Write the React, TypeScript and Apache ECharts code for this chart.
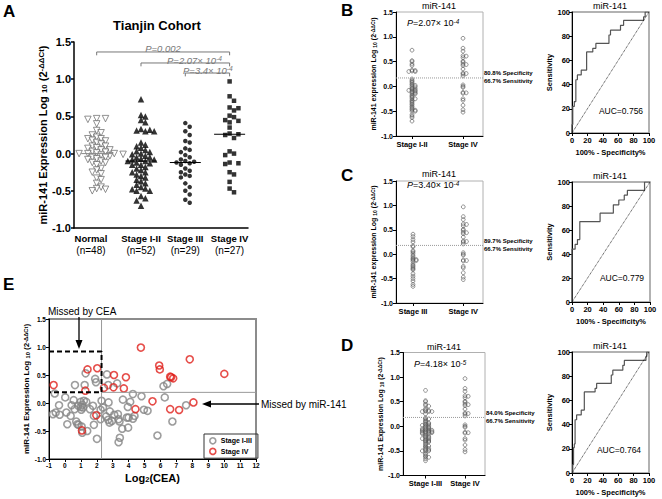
import React, { useEffect, useRef } from "react";
import * as echarts from "echarts";

const FONT = "'Liberation Sans', Arial, Helvetica, sans-serif";

// ---------- Panel A data ----------
const groupNames = ["Normal", "Stage I-II", "Stage III", "Stage IV"];
const groupN = ["(n=48)", "(n=52)", "(n=29)", "(n=27)"];
const normalVals = [0.47, 0.47, 0.46, 0.40, 0.31, 0.28, 0.25, 0.22, 0.20, 0.20,
  0.18, 0.17, 0.15, 0.13, 0.10, 0.10, 0.08, 0.07, 0.05, 0.05,
  0.03, 0.02, 0.01, 0.00, 0.00, 0.00, -0.01, -0.02, -0.03, -0.05,
  -0.05, -0.07, -0.08, -0.10, -0.12, -0.12, -0.15, -0.20, -0.22, -0.25,
  -0.27, -0.33, -0.35, -0.40, -0.45, -0.47, -0.48, -0.50];
const stage12Vals = [0.73, 0.52, 0.50, 0.45, 0.42, 0.33, 0.32, 0.31, 0.30, 0.30,
  0.15, 0.12, 0.10, 0.08, 0.05, 0.03, 0.02, 0.00, -0.01, -0.03,
  -0.05, -0.05, -0.07, -0.08, -0.08, -0.10, -0.10, -0.12, -0.13, -0.15,
  -0.15, -0.18, -0.20, -0.22, -0.25, -0.25, -0.28, -0.30, -0.32, -0.35,
  -0.37, -0.40, -0.42, -0.45, -0.47, -0.48, -0.50, -0.50, -0.57, -0.60,
  -0.63, -0.70];
const stage3Vals = [0.41, 0.36, 0.30, 0.25, 0.17, 0.15, 0.07, 0.05, 0.02, -0.02,
  -0.05, -0.08, -0.10, -0.11, -0.12, -0.13, -0.15, -0.20, -0.23, -0.25,
  -0.28, -0.30, -0.32, -0.40, -0.45, -0.50, -0.55, -0.62, -0.66];
const stage4Vals = [0.97, 0.77, 0.71, 0.62, 0.61, 0.58, 0.51, 0.49, 0.45, 0.44,
  0.42, 0.35, 0.27, 0.26, 0.25, 0.21, 0.03, -0.02, -0.12, -0.13,
  -0.14, -0.25, -0.28, -0.38, -0.47, -0.52, 0.00];
const stage13Vals = [...stage12Vals, ...stage3Vals];

const pTexts = ["0.002", "2.07", "3.4"];

// ---------- ROC curves (100% - specificity, sensitivity) ----------
const rocB_fpr = [0, 0, 1, 1, 3, 3, 5, 5, 7, 7, 12, 12, 19, 19, 27, 27, 31, 31, 48, 48, 50, 50, 63, 63, 67, 67, 93, 93, 95, 95, 100];
const rocB_tpr = [0, 7, 7, 22, 22, 26, 26, 44, 44, 48, 48, 52, 52, 67, 67, 70, 70, 74, 74, 81, 81, 85, 85, 89, 89, 93, 93, 96, 96, 100, 100];
const rocC_fpr = [0, 0, 4, 4, 7, 7, 10, 10, 36, 36, 53, 53, 60, 60, 67, 67, 71, 71, 93, 93, 100];
const rocC_tpr = [0, 44, 44, 48, 48, 52, 52, 67, 67, 74, 74, 81, 81, 85, 85, 89, 89, 93, 93, 100, 100];
const rocD_fpr = [0, 1, 1, 2, 2, 3, 3, 4, 4, 6, 6, 12, 12, 16, 16, 30, 30, 32, 32, 51, 51, 53, 53, 66, 66, 68, 68, 96, 96, 97, 97, 100];
const rocD_tpr = [0, 0, 7, 7, 21, 21, 24, 24, 44, 44, 48, 48, 52, 52, 67, 67, 70, 70, 74, 74, 81, 81, 85, 85, 89, 89, 93, 93, 96, 96, 100, 100];
const aucB = "0.756", aucC = "0.779", aucD = "0.764";
const cutB = 0.17, cutC = 0.18, cutD = 0.18;
const specB = "80.8", specC = "89.7", specD = "84.0", sensAll = "66.7";

// ---------- Panel E data ----------
const ceaLow = [-0.64, -0.75, -0.58, -0.37, -0.33, 0.02, 0.09, 0.15, 0.36, 0.42, 0.55, 0.63, 0.61, 0.71, 0.78, 0.84, 0.86, 0.99, 0.99, 1.03,
  1.05, 1.09, 1.09, 1.13, 1.19, 1.24, 1.30, 1.34, 1.40, 1.57, 1.76, 1.82, 1.82, 1.90, 1.95, 2.01, 2.24, 2.30, 2.39, 2.24,
  2.59, 2.64, 2.72, 2.72, 2.80, 2.74, 2.82, 2.95, 3.10, 3.28, 3.33, 3.37, 3.43, 3.37, 3.45, 3.64, 3.60, 3.95, 3.89, 4.00,
  3.97, 4.10, 4.27, 4.27, 4.37, 4.81, 4.96, 5.19, 5.81, 6.19, 6.27, 6.42, 7.61, 6.75];
const mirLow = [0.17, -0.20, -0.17, -0.04, -0.21, 0.10, -0.17, -0.38, -0.23, -0.04, 0.05, 0.32, -0.11, -0.33, -0.38, -0.05, -0.39, -0.07, 0.02, -0.12,
  -0.42, -0.53, -0.03, -0.08, 0.04, 0.32, 0.53, 0.02, -0.50, -0.11, -0.05, -0.23, -0.39, 0.43, 0.37, -0.64, -0.12, 0.04, -0.08, -0.29,
  -0.24, 0.51, 0.32, -0.30, -0.35, 0.01, -0.15, -0.32, -0.21, 0.35, -0.20, -0.29, -0.33, -0.70, -0.62, 0.06, -0.46, -0.07, -0.26, -0.26,
  -0.44, 0.02, 0.16, -0.28, -0.23, 0.12, -0.12, -0.14, -0.58, 0.30, 0.10, 0.34, -0.04, -0.33];
const ceaIV = [-0.71, 1.07, 1.28, 1.42, 2.03, 1.97, 2.45, 3.08, 3.05, 3.83, 3.70, 4.43, 4.77, 5.50, 5.92, 5.96, 6.61, 6.67, 6.80, 6.61, 7.17, 7.84, 8.07, 10.01];
const mirIV = [0.32, -0.49, 0.22, 0.60, 0.62, -0.22, 0.27, 0.50, 0.28, 0.46, 0.26, -0.11, 0.99, 0.03, 0.67, 0.60, 0.47, 0.46, 0.44, -0.11, -0.125, 0.78, 0.01, 0.52];
const ceaCut = 2.3, mirCut = 0.19, boxTop = 0.92;

// deterministic beeswarm: returns horizontal offsets in axis units
function swarm(vals: number[], pxY: number, pxX: number, d: number, step: number): number[] {
  const order = vals.map((_, i) => i).sort((a, b) => vals[b] - vals[a]);
  const placed: { x: number; y: number }[] = [];
  const res = new Array(vals.length).fill(0);
  for (const i of order) {
    const y = vals[i] * pxY;
    for (let k = 0; k < 60; k++) {
      const m = Math.ceil(k / 2) * (k % 2 === 1 ? 1 : -1);
      const x = m * step;
      const hit = placed.some((p) => Math.abs(p.x - x) < step * 0.5 && Math.abs(p.y - y) < d || ((p.x - x) ** 2 + (p.y - y) ** 2 < d * d));
      if (!hit) {
        placed.push({ x, y });
        res[i] = x / pxX;
        break;
      }
    }
  }
  return res;
}
function median(a: number[]) {
  const s = [...a].sort((x, y) => x - y);
  const n = s.length;
  return n % 2 ? s[(n - 1) / 2] : (s[n / 2 - 1] + s[n / 2]) / 2;
}

const yNameRich = (fs: number) => ({
  fontFamily: FONT, fontWeight: "bold" as const, fontSize: fs, color: "#000",
  rich: {
    sub: { fontFamily: FONT, fontWeight: "bold", fontSize: fs * 0.72, verticalAlign: "bottom", color: "#000" },
    sup: { fontFamily: FONT, fontWeight: "bold", fontSize: fs * 0.72, verticalAlign: "top", color: "#000" },
  },
});

function makeY(gridIndex: number, min: number, max: number, interval: number, fs: number, dec: number,
  name: string, nameGap: number, nameFs: number, lw = 1) {
  return {
    type: "value", gridIndex, min, max, interval,
    name, nameLocation: "middle", nameGap, nameRotate: 90, nameTextStyle: yNameRich(nameFs),
    axisLine: { show: true, onZero: false, lineStyle: { color: "#000", width: lw } },
    axisTick: { show: true, length: 3, lineStyle: { color: "#000", width: lw } },
    axisLabel: { fontFamily: FONT, fontWeight: "bold", fontSize: fs, color: "#000", margin: 3, formatter: (v: number) => v.toFixed(dec) },
    splitLine: { show: false },
  };
}

export default function App() {
  const ref = useRef<HTMLDivElement>(null);
  useEffect(() => {
    document.body.style.margin = "0";
    const chart = echarts.init(ref.current!, null, { renderer: "svg" });

    // ---- Panel A ----
    const aGroups = [normalVals, stage12Vals, stage3Vals, stage4Vals];
    const aOff = aGroups.map((g) => swarm(g, 74.4, 44.3, 4.6, 4.4));
    const aData = aGroups.map((g, gi) => g.map((v, k) => [gi + aOff[gi][k], v]));
    const aStyles = [
      { symbol: "triangle", symbolRotate: 180, symbolSize: 6.5, itemStyle: { color: "#fff", borderColor: "#666", borderWidth: 0.9 } },
      { symbol: "triangle", symbolRotate: 0, symbolSize: 6.5, itemStyle: { color: "#000" } },
      { symbol: "circle", symbolRotate: 0, symbolSize: 4.5, itemStyle: { color: "#000" } },
      { symbol: "rect", symbolRotate: 0, symbolSize: 4.5, itemStyle: { color: "#000" } },
    ];
    const series: any[] = [];
    aData.forEach((d, gi) => {
      series.push({ type: "scatter", name: "A-" + groupNames[gi], xAxisIndex: 0, yAxisIndex: 0, data: d, silent: true, ...aStyles[gi] });
      const med = median(aGroups[gi]);
      series.push({
        type: "line", name: "A-med-" + gi, xAxisIndex: 0, yAxisIndex: 0, symbol: "none", silent: true,
        data: [[gi - 0.35, med], [gi + 0.35, med]], lineStyle: { color: gi === 0 ? "#888" : "#000", width: 1 },
      });
    });
    const brackets = [[0, 1.366], [1, 1.218], [2, 1.083]];
    brackets.forEach(([s, y], bi) => {
      series.push({
        type: "line", name: "A-br-" + bi, xAxisIndex: 0, yAxisIndex: 0, symbol: "none", silent: true,
        data: [[s, y - 0.045], [s, y], [3, y], [3, y - 0.045]], lineStyle: { color: "#777", width: 1 },
      });
    });

    // ---- B/C/D scatter panels ----
    const scat = (idx: number, g1: number[], g2: number[], cut: number, pxX: number, xmin: number, xmax: number) => {
      const o1 = swarm(g1, 49.6, pxX, 0.6, 3.2);
      const o2 = swarm(g2, 49.6, pxX, 0.6, 3.2);
      const common = {
        type: "scatter", xAxisIndex: idx, yAxisIndex: idx, symbol: "circle", symbolSize: 3.8, silent: true,
        itemStyle: { color: "rgba(255,255,255,0)", borderColor: "#555", borderWidth: 0.8 },
      };
      series.push({ ...common, name: `s${idx}a`, data: g1.map((v, k) => [o1[k], v]) });
      series.push({ ...common, name: `s${idx}b`, data: g2.map((v, k) => [1 + o2[k], v]) });
      series.push({
        type: "line", name: `cut${idx}`, xAxisIndex: idx, yAxisIndex: idx, symbol: "none", silent: true,
        data: [[xmin, cut], [xmax, cut]], lineStyle: { type: "dotted", color: "#999", width: 1 },
      });
    };
    const roc = (idx: number, fpr: number[], tpr: number[]) => {
      series.push({
        type: "line", name: `roc${idx}`, xAxisIndex: idx, yAxisIndex: idx, symbol: "none", silent: true,
        data: fpr.map((f, k) => [f, tpr[k]]), lineStyle: { color: "#555", width: 1.2 },
      });
      series.push({
        type: "line", name: `diag${idx}`, xAxisIndex: idx, yAxisIndex: idx, symbol: "none", silent: true,
        data: [[0, 0], [100, 100]], lineStyle: { color: "#000", width: 0.8, type: "dotted" },
      });
    };
    const xB = { min: -0.314, max: 1.392 }, xC = { min: -0.338, max: 1.392 }, xD = { min: -0.57, max: 1.506 };
    scat(1, stage12Vals, stage4Vals, cutB, 51, xB.min, xB.max);
    roc(2, rocB_fpr, rocB_tpr);
    scat(3, stage3Vals, stage4Vals, cutC, 50.3, xC.min, xC.max);
    roc(4, rocC_fpr, rocC_tpr);
    scat(5, stage13Vals, stage4Vals, cutD, 39.5, xD.min, xD.max);
    roc(6, rocD_fpr, rocD_tpr);

    // ---- Panel E ----
    series.push({
      type: "line", name: "E-v", xAxisIndex: 7, yAxisIndex: 7, symbol: "none", silent: true,
      data: [[ceaCut, -1], [ceaCut, 1.5]], lineStyle: { color: "#999", width: 1 },
    });
    series.push({
      type: "line", name: "E-h", xAxisIndex: 7, yAxisIndex: 7, symbol: "none", silent: true,
      data: [[ceaCut, mirCut], [12, mirCut]], lineStyle: { color: "#999", width: 1 },
    });
    series.push({
      type: "line", name: "E-box", xAxisIndex: 7, yAxisIndex: 7, symbol: "none", silent: true,
      data: [[-1, boxTop], [ceaCut, boxTop], [ceaCut, mirCut], [-1, mirCut]],
      lineStyle: { color: "#000", width: 2, type: [5, 3] },
    });
    series.push({
      type: "scatter", name: "Stage I-III", xAxisIndex: 7, yAxisIndex: 7, symbol: "circle", symbolSize: 7, silent: true,
      itemStyle: { color: "rgba(255,255,255,0)", borderColor: "#858585", borderWidth: 1.6 },
      data: ceaLow.map((c, k) => [c, mirLow[k]]),
    });
    series.push({
      type: "scatter", name: "Stage IV", xAxisIndex: 7, yAxisIndex: 7, symbol: "circle", symbolSize: 7, silent: true,
      itemStyle: { color: "rgba(255,255,255,0)", borderColor: "#e0201b", borderWidth: 1.6 },
      data: ceaIV.map((c, k) => [c, mirIV[k]]),
    });

    const grids = [
      { left: 74, top: 42, width: 174, height: 186, show: false },
      { left: 396, top: 12, width: 87, height: 124, show: true, borderColor: "#b0b0b0", borderWidth: 1 },
      { left: 572, top: 12, width: 77, height: 121, show: true, borderColor: "#999", borderWidth: 1.5 },
      { left: 396, top: 181, width: 87, height: 122, show: true, borderColor: "#b0b0b0", borderWidth: 1 },
      { left: 572, top: 182, width: 78, height: 120, show: true, borderColor: "#999", borderWidth: 1.5 },
      { left: 403, top: 352.5, width: 82, height: 123, show: true, borderColor: "#b0b0b0", borderWidth: 1 },
      { left: 572, top: 352, width: 77, height: 121, show: true, borderColor: "#999", borderWidth: 1.5 },
      { left: 49, top: 319, width: 207, height: 140, show: true, borderColor: "#8c8c8c", borderWidth: 2 },
    ].map((g) => ({ ...g, containLabel: false, backgroundColor: "transparent" }));

    const catX = (gridIndex: number, min: number, max: number, labels: string[]) => ({
      type: "value", gridIndex, min, max,
      axisLine: { show: true, onZero: false, lineStyle: { color: "#000", width: 1 } },
      axisTick: { show: true, length: 3, customValues: [0, 1], lineStyle: { color: "#000" } },
      axisLabel: {
        customValues: [0, 1], fontFamily: FONT, fontWeight: "bold", fontSize: 7.5, color: "#000", margin: 4,
        formatter: (v: number) => labels[Math.round(v)] ?? "",
      },
      splitLine: { show: false },
    });
    const rocX = (gridIndex: number, gap: number) => ({
      type: "value", gridIndex, min: 0, max: 100, interval: 20,
      name: "100% - Specificity%", nameLocation: "middle", nameGap: gap,
      nameTextStyle: { fontFamily: FONT, fontWeight: "bold", fontSize: 7.5, color: "#000" },
      axisLine: { show: true, onZero: false, lineStyle: { color: "#000", width: 1 } },
      axisTick: { show: true, length: 3, lineStyle: { color: "#000" } },
      axisLabel: { fontFamily: FONT, fontWeight: "bold", fontSize: 7.5, color: "#000", margin: 3 },
      splitLine: { show: false },
    });
    const rocY = (gridIndex: number) => ({
      type: "value", gridIndex, min: 0, max: 100, interval: 20,
      name: "Sensitivity", nameLocation: "middle", nameGap: 19, nameRotate: 90,
      nameTextStyle: { fontFamily: FONT, fontWeight: "bold", fontSize: 7.5, color: "#000" },
      axisLine: { show: true, onZero: false, lineStyle: { color: "#000", width: 1 } },
      axisTick: { show: true, length: 3, lineStyle: { color: "#000" } },
      axisLabel: { fontFamily: FONT, fontWeight: "bold", fontSize: 7.5, color: "#000", margin: 2 },
      splitLine: { show: false },
    });

    const xAxis: any[] = [
      {
        type: "value", gridIndex: 0, min: -0.512, max: 3.415,
        axisLine: { show: true, onZero: false, lineStyle: { color: "#000", width: 1.5 } },
        axisTick: { show: false },
        axisLabel: {
          customValues: [-0.13, 1, 2, 3], margin: 4,
          formatter: (v: number) => `{b|${groupNames[Math.round(v)]}}\n{n|${groupN[Math.round(v)]}}`,
          rich: {
            b: { fontFamily: FONT, fontWeight: "bold", fontSize: 9.5, color: "#000", lineHeight: 12 },
            n: { fontFamily: FONT, fontSize: 10, color: "#000", lineHeight: 12 },
          },
        },
        splitLine: { show: false },
      },
      catX(1, xB.min, xB.max, ["Stage I-II", "Stage IV"]),
      rocX(2, 15),
      catX(3, xC.min, xC.max, ["Stage III", "Stage IV"]),
      rocX(4, 15),
      catX(5, xD.min, xD.max, ["Stage I-III", "Stage IV"]),
      rocX(6, 15),
      {
        type: "value", gridIndex: 7, min: -1, max: 12, interval: 1,
        name: "Log{sub|2}(CEA)", nameLocation: "middle", nameGap: 13,
        nameTextStyle: {
          fontFamily: FONT, fontWeight: "bold", fontSize: 11, color: "#000",
          rich: { sub: { fontFamily: FONT, fontWeight: "bold", fontSize: 7.5, verticalAlign: "bottom", color: "#000" } },
        },
        axisLine: { show: true, onZero: false, lineStyle: { color: "#000", width: 1 } },
        axisTick: { show: true, length: 3, lineStyle: { color: "#000" } },
        axisLabel: { fontFamily: FONT, fontWeight: "bold", fontSize: 6.5, color: "#000", margin: 3 },
        splitLine: { show: false },
      },
    ];
    const yName = "miR-141 Expression Log {sub|10} (2{sup|-ΔΔCt})";
    const yNameLow = "miR-141 expression Log {sub|10} (2{sup|-ΔΔCt})";
    const yAxis: any[] = [
      makeY(0, -1, 1.5, 0.5, 11, 1, yName, 21, 11, 1.5),
      makeY(1, -1, 1.5, 0.5, 7, 1, yNameLow, 15, 7),
      rocY(2),
      makeY(3, -1, 1.5, 0.5, 7, 1, yNameLow, 15, 7),
      rocY(4),
      makeY(5, -1, 1.5, 0.5, 7, 1, yName, 17, 7),
      rocY(6),
      makeY(7, -1, 1.5, 0.5, 6.5, 1, yName, 16, 8),
    ];

    const txt = (x: number, y: number, text: string, o: any = {}) => ({
      type: "text", x, y, silent: true,
      style: { text, fontFamily: FONT, fontSize: 9, fill: "#000", align: "left", verticalAlign: "middle", ...o },
    });
    const pRich = (fs: number, color: string) => ({
      i: { fontFamily: FONT, fontStyle: "italic", fontSize: fs, fill: color },
      s: { fontFamily: FONT, fontStyle: "italic", fontSize: fs * 0.7, fill: color, verticalAlign: "top" },
      r: { fontFamily: FONT, fontSize: fs, fill: color },
    });
    const letter = (x: number, y: number, t: string) => txt(x, y, t, { fontSize: 17, fontWeight: "bold", verticalAlign: "top" });

    const graphic: any[] = [
      letter(3, 3, "A"),
      letter(341, 2, "B"),
      letter(341, 167, "C"),
      letter(341, 337, "D"),
      letter(3, 276, "E"),
      txt(157, 25, "Tianjin Cohort", { fontSize: 13, fontWeight: "bold", align: "center" }),
      txt(163, 48, `P=${pTexts[0]}`, { fontSize: 9.5, fontStyle: "italic", fill: "#777", align: "center" }),
      txt(167, 60, `{i|P=${pTexts[1]}× 10}{s|-4}`, { rich: pRich(9.5, "#777"), fontSize: 9.5, fill: "#777" }),
      txt(183, 70, `{i|P=${pTexts[2]}× 10}{s|-4}`, { rich: pRich(9.5, "#777"), fontSize: 9.5, fill: "#777" }),
      // B
      txt(439, 6, "miR-141", { fontSize: 9, align: "center" }),
      txt(407, 23, "{i|P}{r|=2.07× 10}{s|-4}", { rich: pRich(9, "#000"), fontSize: 9 }),
      txt(484, 72.5, `${specB}% Specificity`, { fontSize: 6, fontWeight: "bold" }),
      txt(484, 80.5, `${sensAll}% Sensitivity`, { fontSize: 6, fontWeight: "bold" }),
      txt(610, 6, "miR-141", { fontSize: 9, align: "center" }),
      txt(621, 110.5, `AUC=${aucB}`, { fontSize: 8.5, align: "center" }),
      // C
      txt(439, 174, "miR-141", { fontSize: 9, align: "center" }),
      txt(407, 185, "{i|P}{r|=3.40× 10}{s|-4}", { rich: pRich(9, "#000"), fontSize: 9 }),
      txt(484, 241, `${specC}% Specificity`, { fontSize: 6, fontWeight: "bold" }),
      txt(484, 249, `${sensAll}% Sensitivity`, { fontSize: 6, fontWeight: "bold" }),
      txt(610, 176, "miR-141", { fontSize: 9, align: "center" }),
      txt(622, 277.5, `AUC=${aucC}`, { fontSize: 8.5, align: "center" }),
      // D
      txt(444, 347, "miR-141", { fontSize: 9, align: "center" }),
      txt(414, 364, "{i|P}{r|=4.18× 10}{s|-5}", { rich: pRich(9, "#000"), fontSize: 9 }),
      txt(486, 413, `${specD}% Specificity`, { fontSize: 6, fontWeight: "bold" }),
      txt(486, 421, `${sensAll}% Sensitivity`, { fontSize: 6, fontWeight: "bold" }),
      txt(610, 346, "miR-141", { fontSize: 9, align: "center" }),
      txt(619, 450, `AUC=${aucD}`, { fontSize: 8.5, align: "center" }),
      // E annotations
      txt(48, 311, "Missed by CEA", { fontSize: 10 }),
      { type: "line", silent: true, shape: { x1: 79, y1: 317, x2: 79, y2: 342 }, style: { stroke: "#000", lineWidth: 1.3 } },
      { type: "polygon", silent: true, shape: { points: [[75.5, 340], [82.5, 340], [79, 349]] }, style: { fill: "#000" } },
      txt(261, 404, "Missed by miR-141", { fontSize: 10 }),
      { type: "line", silent: true, shape: { x1: 259, y1: 404, x2: 209, y2: 404 }, style: { stroke: "#000", lineWidth: 1.3 } },
      { type: "polygon", silent: true, shape: { points: [[211, 400.5], [211, 407.5], [202, 404]] }, style: { fill: "#000" } },
    ];

    chart.setOption({
      animation: false,
      backgroundColor: "#fff",
      textStyle: { fontFamily: FONT },
      grid: grids,
      xAxis,
      yAxis,
      series,
      legend: {
        data: [
          { name: "Stage I-III", icon: "circle", itemStyle: { color: "rgba(255,255,255,0)", borderColor: "#858585", borderWidth: 1.6 } },
          { name: "Stage IV", icon: "circle", itemStyle: { color: "rgba(255,255,255,0)", borderColor: "#e0201b", borderWidth: 1.6 } },
        ],
        left: 204, top: 434, orient: "vertical", itemWidth: 6, itemHeight: 6, itemGap: 3,
        padding: [3, 6, 3, 5], borderColor: "#333", borderWidth: 1, selectedMode: false,
        textStyle: { fontFamily: FONT, fontWeight: "bold", fontSize: 7, color: "#000" },
      },
      graphic,
    });
    return () => chart.dispose();
  }, []);
  return <div ref={ref} style={{ width: 662, height: 499 }} />;
}
